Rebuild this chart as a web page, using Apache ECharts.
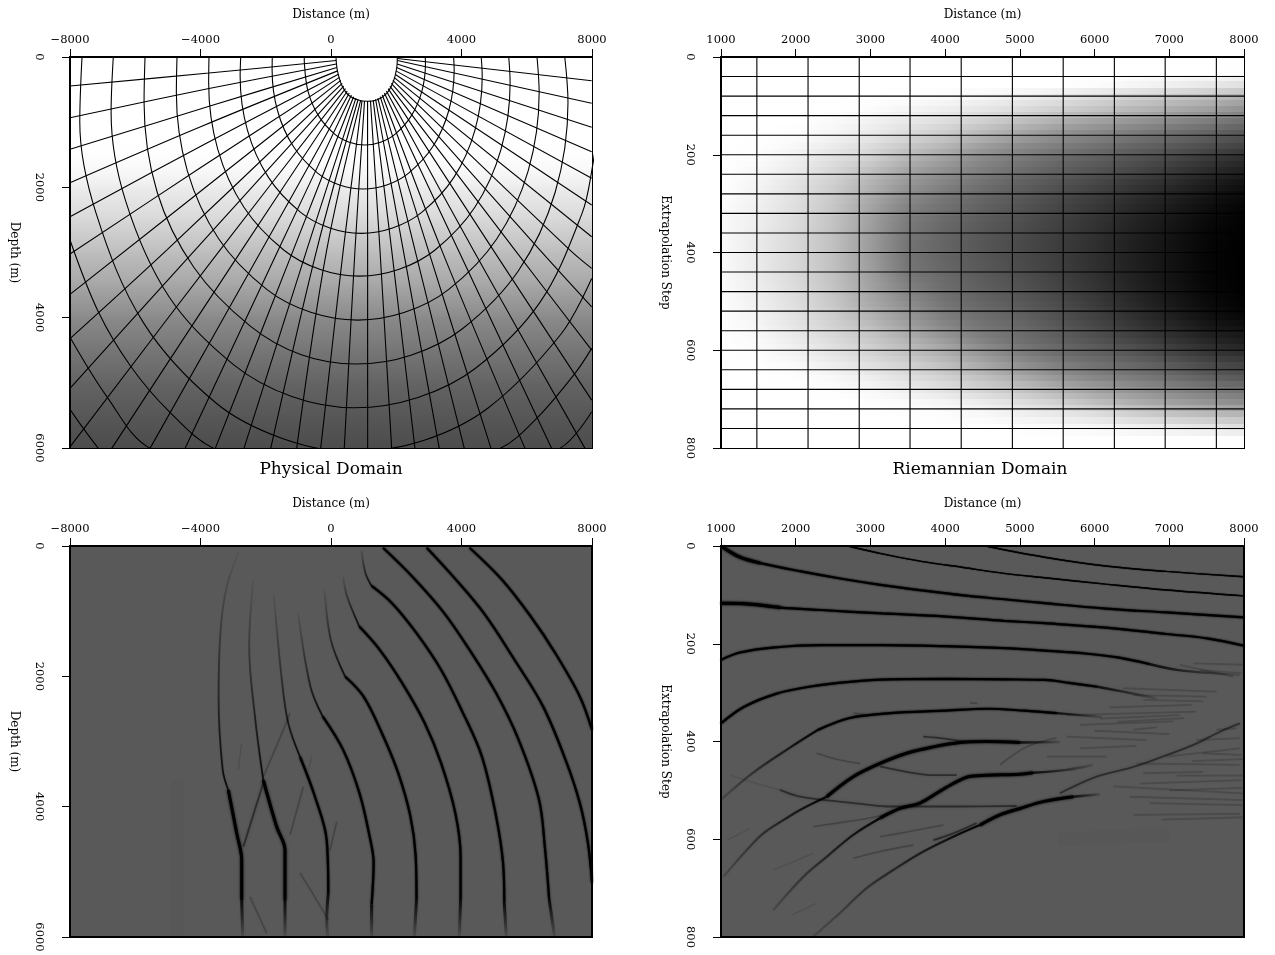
<!DOCTYPE html>
<html>
<head>
<meta charset="utf-8">
<title>Physical and Riemannian domains</title>
<script src="https://cdn.jsdelivr.net/npm/echarts@6/dist/echarts.min.js"></script>
<style>
html, body { margin: 0; padding: 0; background: #fff; }
#chart { width: 1275px; height: 955px; }
</style>
</head>
<body>
<div id="chart"></div>
<script>
// tick labels
const physicalTicks = [-8000, -4000, 0, 4000, 8000];
const depthTicks = [0, 2000, 4000, 6000];
const distanceTicks = [1000, 2000, 3000, 4000, 5000, 6000, 7000, 8000];
const stepTicks = [0, 200, 400, 600, 800];

// physical domain: gray level against depth
const velocityDepths = [0, 1000, 1500, 1800, 2000, 2500, 3000, 3500, 4000, 4500, 5000, 5500, 6000];
const velocityGrays = [255, 255, 254, 246, 236, 216, 190, 166, 138, 118, 100, 87, 76];

// physical domain: coordinate curves, hole outwards
const curve1 = [[153,0],[193,200],[328,430],[530,583],[836,660],[1112,680],[1400,660],[1707,557],[1909,379],[2013,173],[2032,0]];
const curve2 = [[-820,0],[-815,100],[-704,528],[-381,904],[112,1183],[560,1307],[1040,1350],[1520,1307],[1968,1183],[2461,904],[2784,528],[2895,100],[2889,0]];
const curve3 = [[-1800,0],[-1805,200],[-1638,825],[-1152,1374],[-410,1781],[262,1964],[985,2026],[1708,1964],[2380,1781],[3122,1374],[3608,825],[3775,200],[3758,0]];
const curve4 = [[-2768,0],[-2785,300],[-2562,1123],[-1917,1847],[-930,2384],[-36,2624],[925,2706],[1886,2624],[2780,2384],[3767,1847],[4412,1123],[4635,300],[4605,0]];
const curve5 = [[-3740,0],[-3750,400],[-3473,1413],[-2669,2305],[-1440,2965],[-327,3261],[870,3362],[2067,3261],[3180,2965],[4409,2305],[5213,1413],[5490,400],[5448,0]];
const curve6 = [[-4720,0],[-4740,550],[-4406,1743],[-3439,2792],[-1960,3570],[-620,3918],[820,4037],[2260,3918],[3600,3570],[5079,2792],[6046,1743],[6380,550],[6314,0]];
const curve7 = [[-5701,0],[-5730,700],[-5330,2072],[-4201,3230],[-2474,4130],[-909,4570],[772,4712],[2453,4576],[4018,4174],[5745,3280],[6874,2072],[7264,700],[7165,0]];
const curve8 = [[-6673,0],[-6740,850],[-6300,2200],[-4964,3680],[-2990,4720],[-1202,5210],[720,5383],[2642,5229],[4430,4776],[6404,3765],[7695,2400],[8000,1725],[8200,1000]];
const curve9 = [[-7632,0],[-7700,1000],[-7199,2400],[-5746,4080],[-3525,5310],[-1513,5850],[650,6060],[2813,5888],[4825,5382],[7046,4254],[7990,3400]];
const curve10 = [[-8000,2809],[-7133,3910],[-6130,4754],[-4935,5454],[-3556,6017],[900,6800],[5180,6006],[6304,5546],[7478,4855],[7990,4471]];
const curve11 = [[-8000,4302],[-6856,5223],[-5548,6006],[1000,7400],[7018,6006],[7990,5444]];
const curve12 = [[-8000,5408],[-7592,5699],[-7132,6006]];

// physical domain: rays, left edge round to right edge
const rayL1 = [[-8000,445],[-3740,246],[156,54]];
const rayL2 = [[-8000,932],[-3740,484],[165,107]];
const rayL3 = [[-8000,1417],[-3709,752],[180,161]];
const rayL4 = [[-8000,1929],[-4015,1074],[202,213]];
const rayL5 = [[-8000,2451],[-3862,1335],[229,264]];
const rayL6 = [[-8000,3024],[-4015,1704],[260,313]];
const rayL7 = [[-8000,3643],[-3096,1704],[300,359]];
const rayL8 = [[-8000,4321],[-5036,2963],[343,405]];
const rayL9 = [[-8000,5085],[-4169,2963],[389,447]];
const rayL10 = [[-8000,5982],[-3403,2963],[444,485]];
const rayL11 = [[-6722,6006],[-2737,2963],[499,522]];
const rayL12 = [[-5548,6006],[-2124,2963],[561,554]];
const rayL13 = [[-4475,6006],[-1616,2963],[625,583]];
const rayL14 = [[-3556,6017],[-1156,2963],[692,609]];
const rayL15 = [[-2667,6006],[-745,2963],[763,631]];
const rayL16 = [[-1848,6006],[-439,2963],[833,648]];
const rayL17 = [[-1052,6006],[-132,2963],[910,662]];
const rayL18 = [[-316,6006],[376,2963],[950,671]];
const rayL19 = [[407,6006],[735,2963],[1027,674]];
const rayMid = [[1121,675],[1124,6006]];
const rayR1 = [[1210,672],[1501,2963],[1860,6006]];
const rayR2 = [[1293,662],[1860,2963],[2574,6006]];
const rayR3 = [[1366,648],[2215,2963],[3319,6006]];
const rayR4 = [[1437,631],[2574,2963],[4085,6006]];
const rayR5 = [[1508,609],[2982,2963],[4904,6006]];
const rayR6 = [[1572,583],[3393,2963],[5946,6006]];
const rayR7 = [[1636,554],[3901,2963],[6765,6006]];
const rayR8 = [[1698,522],[4361,2963],[7785,6006]];
const rayR9 = [[1753,485],[4974,2963],[7990,5265]];
const rayR10 = [[1805,447],[5639,2963],[7990,4497]];
const rayR11 = [[1851,405],[6405,2963],[7990,3833]];
const rayR12 = [[1894,359],[7325,2963],[7990,3243]];
const rayR13 = [[1931,313],[7990,2758]];
const rayR14 = [[1964,264],[7990,2272]];
const rayR15 = [[1989,213],[7990,1862]];
const rayR16 = [[2010,161],[7990,1454]];
const rayR17 = [[2026,107],[7990,1079]];
const rayR18 = [[2035,54],[7990,711]];
const rayR19 = [[2035,23],[7990,364]];
const curves = [curve1, curve2, curve3, curve4, curve5, curve6, curve7, curve8, curve9, curve10, curve11, curve12];
const rays = [rayL1, rayL2, rayL3, rayL4, rayL5, rayL6, rayL7, rayL8, rayL9, rayL10, rayL11, rayL12, rayL13, rayL14, rayL15, rayL16, rayL17, rayL18, rayL19, rayMid,
  rayR1, rayR2, rayR3, rayR4, rayR5, rayR6, rayR7, rayR8, rayR9, rayR10, rayR11, rayR12, rayR13, rayR14, rayR15, rayR16, rayR17, rayR18, rayR19];

// riemannian domain: gray level per step and distance
const heatDistances = [1000, 1500, 2000, 2500, 3000, 3500, 4000, 4500, 5000, 5500, 6000, 6500, 7000, 7500, 8000];
const heatSteps = [0, 25, 50, 75, 100, 125, 150, 175, 200, 225, 250, 275, 300, 325, 350, 375, 400, 425, 450, 475, 500, 525, 550, 575, 600, 625, 650, 675, 700, 725, 750, 775, 800];
const heatGrays = [
  [255,255,255,255,255,255,255,255,255,255,255,255,255,255,255],
  [255,255,255,255,255,255,255,255,255,255,255,255,255,255,253],
  [255,255,255,255,255,255,255,255,255,255,252,246,240,232,225],
  [255,255,255,255,255,254,250,245,238,230,218,208,198,188,176],
  [255,255,255,255,252,245,238,230,220,208,196,184,172,160,145],
  [255,255,255,250,242,232,222,208,192,176,162,150,138,126,112],
  [255,255,253,245,235,220,205,185,166,148,136,124,112,100,88],
  [255,254,248,235,220,200,182,158,140,126,114,102,90,78,66],
  [255,252,240,225,208,182,160,138,122,108,96,84,72,58,46],
  [255,248,235,215,192,164,144,126,110,96,84,72,58,44,32],
  [255,245,228,208,180,152,132,114,98,85,72,58,46,31,19],
  [254,242,224,202,172,140,120,104,90,76,62,48,35,21,10],
  [252,240,222,198,164,130,112,97,84,70,56,41,28,14,5],
  [250,238,220,195,160,124,106,92,80,66,52,37,24,10,2],
  [250,236,218,193,158,120,102,88,76,63,49,34,21,7,1],
  [250,234,216,192,156,116,100,86,74,61,47,32,19,6,0],
  [250,234,216,192,156,116,100,86,74,62,47,32,19,5,0],
  [250,234,216,192,158,118,102,88,76,63,48,33,19,6,0],
  [251,236,218,194,160,124,106,92,80,66,50,34,20,6,0],
  [252,238,220,196,164,132,110,96,84,70,54,37,22,8,1],
  [253,240,222,200,170,142,116,102,90,76,59,42,26,11,3],
  [254,243,226,206,180,152,126,110,98,82,66,49,33,17,8],
  [255,246,230,212,192,164,138,118,106,90,74,58,42,26,18],
  [255,250,236,220,202,180,156,130,112,98,84,70,55,39,30],
  [255,253,242,228,212,194,174,150,126,110,98,87,71,55,46],
  [255,255,250,238,224,210,192,170,146,128,114,104,91,75,68],
  [255,255,253,248,238,224,210,194,172,152,135,125,112,98,90],
  [255,255,255,253,248,238,226,212,196,178,160,147,134,122,115],
  [255,255,255,255,253,250,244,235,222,208,190,174,160,148,140],
  [255,255,255,255,255,254,252,248,240,232,222,208,196,186,180],
  [255,255,255,255,255,255,255,255,253,250,246,240,235,228,222],
  [255,255,255,255,255,255,255,255,255,255,255,255,254,254,253],
  [255,255,255,255,255,255,255,255,255,255,255,255,255,255,255]
];

// riemannian domain: mesh lines
const meshDistances = [1480, 2165, 2850, 3530, 4215, 4900, 5580, 6265, 6945, 7630];
const meshSteps = [40, 80, 120, 160, 200, 240, 280, 320, 360, 400, 440, 480, 520, 560, 600, 640, 680, 720, 760];

// lower left image: wavefronts
const frontA = [[4247,26],[5248,521],[6124,1082],[6874,1644],[7625,2308],[8000,2818]];
const frontB = [[2934,26],[3747,470],[4685,1031],[5624,1746],[6499,2461],[7187,3278],[7625,3942],[7875,4555],[8000,5167]];
const frontC = [[1595,26],[2496,470],[3434,1006],[4247,1593],[5060,2257],[5749,2972],[6374,3891],[6562,4657],[6687,5422]];
const frontCTail = [[6687,5422],[6849,5984]];
const frontDTop = [[932,61],[1057,419],[1245,613]];
const frontD = [[1245,613],[1870,878],[2621,1338],[3372,1899],[3997,2512],[4623,3227],[5060,4146],[5273,4861],[5311,5474]];
const frontDTail = [[5311,5474],[5373,5984]];
const frontETop = [[369,470],[494,776],[870,1236]];
const frontE = [[870,1236],[1495,1593],[2183,2104],[2871,2716],[3372,3329],[3809,4095],[3972,4759],[3972,5423]];
const frontETail = [[3972,5423],[3935,5984]];
const frontFTop = [[-194,674],[-6,1440],[432,2002]];
const frontF = [[432,2002],[995,2308],[1558,2870],[2058,3482],[2433,4146],[2596,4759],[2621,5423]];
const frontFTail = [[2621,5423],[2558,5984]];
const frontGTop = [[-1007,1031],[-632,2155],[-256,2614]];
const frontG = [[-256,2614],[369,3125],[870,3789],[1182,4452],[1307,4861],[1245,5500]];
const frontGTail = [[1245,5500],[1245,5984]];
const frontHTop = [[-1758,725],[-1507,2053],[-1309,2722],[-950,3234]];
const frontH = [[-950,3234],[-491,3848],[-132,4513],[-83,5326]];
const frontHTail = [[-83,5326],[-132,5741],[-100,5984]];
const frontITop = [[-2383,521],[-2508,1542],[-2320,2665],[-2075,3592]];
const frontI = [[-2075,3592],[-1665,4309],[-1410,4666],[-1410,5434]];
const frontITail = [[-1410,5434],[-1410,5984]];
const frontJTop = [[-2821,87],[-3196,623],[-3384,1287],[-3446,2308],[-3321,3431],[-3148,3745]];
const frontJ = [[-3148,3745],[-2891,4405],[-2737,4820],[-2737,5434]];
const frontJTail = [[-2737,5434],[-2707,5984]];
const crossA = [[-2075,3638],[-2688,4616]];
const crossB = [[-2075,3541],[-1462,2824],[-1257,2563]];
const crossC = [[-849,3695],[-1257,4436]];
const crossD = [[-592,3234],[-696,3438]];
const crossE = [[174,4232],[-31,4666]];
const crossF = [[-2737,3024],[-2841,3438]];
const crossG = [[-950,5020],[-439,5434],[-83,5741]];
const crossH = [[-2483,5383],[-1971,5940]];
const hazeStripe = [[-4690,3600],[-4690,6000]];

// lower right image: reflector events
const eventA = [[4571,1],[5332,23],[6147,41],[6962,52],[8000,63]];
const eventB = [[2723,1],[3158,16],[3701,32],[4245,44],[4788,56],[5332,65],[6147,78],[6962,90],[8000,102]];
const eventC = [[1011,1],[1255,23],[1527,35],[2071,52],[2614,67],[3158,80],[3701,91],[4245,101],[4788,109],[5332,117],[6147,128],[6962,136],[8000,146]];
const eventCStart = [[1011,1],[1255,23],[1527,35]];
const eventD = [[1000,117],[1310,118],[1799,126],[2342,131],[3158,138],[3973,144],[4788,153],[5332,158],[6147,167],[6962,180],[7506,189],[8000,204]];
const eventDStart = [[1000,117],[1310,118],[1799,126]];
const eventE = [[1000,233],[1255,218],[1690,208],[2342,203],[3158,203],[3973,205],[4788,209],[5332,214],[5875,220],[6310,228],[6745,242]];
const eventETail = [[6745,242],[7125,254],[7941,264]];
const eventF = [[1000,363],[1310,329],[1745,302],[2179,288],[2723,278],[3266,273],[4027,272],[4788,273],[5332,274],[5658,280],[6038,288]];
const eventFTail = [[6038,288],[6383,298],[6829,312]];
const eventG = [[2288,377],[2723,352],[3266,342],[3973,337],[4571,333],[5060,337],[5495,342]];
const eventGTop = [[1000,519],[1418,465],[1908,414],[2288,377]];
const eventGTail = [[5495,342],[6100,350]];
const eventH = [[2414,513],[2770,472],[3127,445],[3485,424],[3841,411],[4198,402],[4555,400],[5001,402]];
const eventHTop = [[1031,677],[1344,622],[1566,588],[1834,561],[2057,540],[2414,513]];
const eventHTail = [[5001,402],[5536,401]];
const eventI = [[3127,557],[3395,537],[3663,526],[3886,506],[4108,486],[4309,472],[4555,469],[5001,467],[5175,464]];
const eventITop = [[1700,745],[2101,677],[2414,636],[2770,591],[3127,557]];
const eventITail = [[5175,464],[5625,458],[5977,448]];
const eventJ = [[4465,571],[4733,550],[5001,537],[5312,523],[5714,513]];
const eventJTop = [[2235,799],[2592,751],[2949,700],[3305,663],[3663,629],[4108,595],[4465,571]];
const eventJTail = [[5714,513],[6071,508]];
const fanArc = [[5536,506],[6027,472],[6518,452],[6964,428],[7321,407],[7678,380],[7945,363]];
const branchA = [[1789,499],[2057,513],[2458,521],[2904,528],[3261,533],[3663,533],[4198,533],[4957,532]];
const branchB = [[3127,451],[3485,462],[3841,469],[4154,469]];
const branchC = [[3707,390],[3930,393],[4242,400]];
const branchD = [[2281,424],[2592,438],[2860,445]];
const branchE = [[2235,574],[2682,564],[3083,554],[3305,544]];
const branchF = [[3127,595],[3485,585],[3977,571]];
const branchG = [[2770,639],[3127,625],[3573,612]];
const branchH = [[3841,602],[4108,588],[4421,567]];
const branchI = [[4733,448],[5090,411],[5491,393]];
const branchJ = [[1120,469],[1478,486],[1789,499]];
const branchK = [[1946,755],[2281,731]];
const branchL = [[1700,663],[2235,629]];
const branchM = [[1076,602],[1388,578]];
const blobA = [[2770,342],[2905,344]];
const blobB = [[4332,321],[4432,322]];
const lowSmear = [[5500,600],[7000,590]];
const fanStreaks = [
  [[7141,243],[7855,267]], [[7320,240],[7989,243]], [[7409,254],[7966,260]],
  [[6383,291],[7632,298]], [[6517,305],[7498,308]], [[6651,315],[7454,318]],
  [[6200,330],[7300,325]], [[5625,346],[7364,339]], [[6071,353],[7141,346]], [[6300,360],[7200,352]], [[5803,366],[7052,359]],
  [[6517,376],[6829,371]], [[6000,378],[7000,385]], [[5625,390],[6695,397]], [[5803,414],[6562,409]],
  [[5357,431],[6160,431]], [[6651,465],[7454,462]], [[6606,486],[7966,479]],
  [[6562,445],[7944,448]], [[6963,431],[7944,414]], [[6249,492],[7989,506]],
  [[6472,513],[7989,520]], [[6740,526],[7989,530]], [[6517,550],[7944,548]],
  [[7632,376],[7899,373]], [[7364,397],[7944,393]], [[7454,424],[7966,428]],
  [[6900,560],[7990,555]], [[7000,500],[7980,495]], [[7100,470],[7990,470]], [[7300,440],[7990,436]]
];

const strokeStyles = {
  heavy: { width: 3, alpha: 1, blur: 2.5 },
  strong: { width: 2.2, alpha: 1, blur: 2 },
  thin: { width: 1.4, alpha: 1, blur: 1 },
  mid: { width: 1.8, alpha: 0.45, blur: 3 },
  soft: { width: 1.6, alpha: 0.22, blur: 3 },
  faint: { width: 1.2, alpha: 0.12, blur: 2 },
  streak: { width: 1.8, alpha: 0.15, blur: 2 },
  haze: { width: 14, alpha: 0.01, blur: 0 },
  riseV: { width: 1.8, from: 0.04, to: 0.85, dir: 'v', blur: 2 },
  fallV: { width: 3, from: 0.9, to: 0.08, dir: 'v', blur: 3 },
  riseH: { width: 2.2, from: 0.15, to: 0.95, dir: 'h', blur: 2.5 },
  fallH: { width: 2.4, from: 0.85, to: 0.1, dir: 'h', blur: 3 }
};

const frontStrokes = [
  [hazeStripe, 'haze'], [frontA, 'strong'], [frontB, 'strong'], [frontC, 'strong'], [frontCTail, 'fallV'],
  [frontDTop, 'riseV'], [frontD, 'strong'], [frontDTail, 'fallV'], [frontETop, 'riseV'], [frontE, 'strong'], [frontETail, 'fallV'],
  [frontFTop, 'riseV'], [frontF, 'strong'], [frontFTail, 'fallV'], [frontGTop, 'riseV'], [frontG, 'strong'], [frontGTail, 'fallV'],
  [frontHTop, 'riseV'], [frontH, 'strong'], [frontHTail, 'fallV'], [frontITop, 'riseV'], [frontI, 'heavy'], [frontITail, 'fallV'],
  [frontJTop, 'riseV'], [frontJ, 'heavy'], [frontJTail, 'fallV'], [crossA, 'mid'], [crossB, 'soft'], [crossC, 'soft'],
  [crossD, 'faint'], [crossE, 'soft'], [crossF, 'faint'], [crossG, 'soft'], [crossH, 'soft']
];
const eventStrokes = [
  [lowSmear, 'haze'], [eventA, 'thin'], [eventB, 'thin'], [eventC, 'strong'], [eventCStart, 'heavy'], [eventD, 'strong'], [eventDStart, 'heavy'],
  [eventE, 'strong'], [eventETail, 'fallH'], [eventF, 'strong'], [eventFTail, 'fallH'], [eventG, 'strong'], [eventGTop, 'riseH'], [eventGTail, 'fallH'],
  [eventH, 'heavy'], [eventHTop, 'riseH'], [eventHTail, 'fallH'], [eventI, 'heavy'], [eventITop, 'riseH'], [eventITail, 'fallH'],
  [eventJ, 'heavy'], [eventJTop, 'riseH'], [eventJTail, 'fallH'], [fanArc, 'mid'],
  [branchA, 'mid'], [branchB, 'mid'], [branchC, 'mid'], [branchD, 'soft'], [branchE, 'soft'], [branchF, 'soft'], [branchG, 'soft'],
  [branchH, 'mid'], [branchI, 'soft'], [branchJ, 'faint'], [branchK, 'faint'], [branchL, 'faint'], [branchM, 'faint'], [blobA, 'soft'], [blobB, 'soft']
].concat(fanStreaks.map(s => [s, 'streak']));

const FONT = 'DejaVu Serif';

function gray(v) {
  return 'rgb(' + v + ',' + v + ',' + v + ')';
}

function topAxis(gridIndex, min, max, interval) {
  return {
    type: 'value', gridIndex: gridIndex, position: 'top', min: min, max: max, interval: interval, z: 10,
    name: 'Distance (m)', nameLocation: 'middle', nameGap: 36,
    nameTextStyle: { fontFamily: FONT, fontSize: 12, color: '#000' },
    axisLine: { show: true, onZero: false, lineStyle: { color: '#000', width: 2 } },
    axisTick: { show: true, length: 8, lineStyle: { color: '#000', width: 1 } },
    axisLabel: { margin: 11, fontFamily: FONT, fontSize: 11.5, color: '#000', formatter: v => String(v).replace('-', '\u2212') },
    splitLine: { show: false }
  };
}

function leftAxis(gridIndex, max, interval, name) {
  return {
    type: 'value', gridIndex: gridIndex, position: 'left', inverse: true, min: 0, max: max, interval: interval, z: 10,
    name: name, nameLocation: 'middle', nameGap: 50, nameRotate: -90,
    nameTextStyle: { fontFamily: FONT, fontSize: 12, color: '#000' },
    axisLine: { show: true, onZero: false, lineStyle: { color: '#000', width: 2 } },
    axisTick: { show: true, length: 8, lineStyle: { color: '#000', width: 1 } },
    axisLabel: { margin: 25, rotate: -90, fontFamily: FONT, fontSize: 11.5, color: '#000', formatter: v => String(v) },
    splitLine: { show: false }
  };
}

function meshLine(gridIndex, data, smooth) {
  return {
    type: 'line', xAxisIndex: gridIndex, yAxisIndex: gridIndex, data: data, silent: true,
    symbol: 'none', smooth: smooth, clip: true, animation: false,
    lineStyle: { color: '#000', width: 1.1 }
  };
}

function strokeLine(gridIndex, stroke) {
  const st = strokeStyles[stroke[1]];
  let col = 'rgba(0,0,0,' + st.alpha + ')';
  let glow = col;
  if (st.dir) {
    col = new echarts.graphic.LinearGradient(0, 0, st.dir === 'h' ? 1 : 0, st.dir === 'v' ? 1 : 0, [
      { offset: 0, color: 'rgba(0,0,0,' + st.from + ')' },
      { offset: 1, color: 'rgba(0,0,0,' + st.to + ')' }
    ]);
    glow = 'rgba(0,0,0,0.25)';
  }
  return {
    type: 'line', xAxisIndex: gridIndex, yAxisIndex: gridIndex, data: stroke[0], silent: true,
    symbol: 'none', smooth: 0.35, clip: true, animation: false,
    lineStyle: { color: col, width: st.width, shadowBlur: st.blur, shadowColor: glow }
  };
}

// vertical gradient bands for the velocity image
const velocitySeries = {
  type: 'custom', xAxisIndex: 0, yAxisIndex: 0, clip: true, silent: true, animation: false,
  data: velocityDepths.slice(1).map((d, i) => [-8000, velocityDepths[i], 8000, d, velocityGrays[i], velocityGrays[i + 1]]),
  renderItem: function (params, api) {
    const a = api.coord([api.value(0), api.value(1)]);
    const b = api.coord([api.value(2), api.value(3)]);
    return {
      type: 'rect',
      shape: { x: a[0], y: Math.floor(a[1]), width: b[0] - a[0], height: Math.ceil(b[1] - a[1]) + 1 },
      style: { fill: new echarts.graphic.LinearGradient(0, 0, 0, 1, [
        { offset: 0, color: gray(api.value(4)) }, { offset: 1, color: gray(api.value(5)) }
      ]) }
    };
  }
};

// horizontal gradient strips for the riemannian image, second pass half a row down at half opacity
function heatSeries(shift, opacity) {
  return {
    type: 'custom', xAxisIndex: 1, yAxisIndex: 1, clip: true, silent: true, animation: false,
    data: heatSteps.map((s, i) => [s, i]),
    renderItem: function (params, api) {
      const i = api.value(1);
      const s = api.value(0) + shift;
      const a = api.coord([1000, Math.max(0, s - 12.5)]);
      const b = api.coord([8000, Math.min(800, s + 12.5)]);
      const stops = heatDistances.map((d, k) => ({ offset: (d - 1000) / 7000, color: gray(heatGrays[i][k]) }));
      return {
        type: 'rect',
        shape: { x: a[0], y: Math.round(a[1]), width: b[0] - a[0], height: Math.round(b[1]) - Math.round(a[1]) },
        style: { fill: new echarts.graphic.LinearGradient(0, 0, 1, 0, stops), opacity: opacity }
      };
    }
  };
}

const series = [velocitySeries, heatSeries(0, 1), heatSeries(12.5, 0.5)];
curves.forEach(c => series.push(meshLine(0, c, 0.35)));
rays.forEach(r => series.push(meshLine(0, r, 0.35)));
meshDistances.forEach(d => series.push(meshLine(1, [[d, 0], [d, 800]], false)));
meshSteps.forEach(s => series.push(meshLine(1, [[1000, s], [8000, s]], false)));
frontStrokes.forEach(s => series.push(strokeLine(2, s)));
eventStrokes.forEach(s => series.push(strokeLine(3, s)));

const chart = echarts.init(document.getElementById('chart'), null, { renderer: 'canvas' });
chart.setOption({
  animation: false,
  backgroundColor: '#fff',
  title: [
    { text: 'Physical Domain', left: 331, top: 461, padding: 0, textAlign: 'center', textStyle: { fontFamily: FONT, fontSize: 17, fontWeight: 'normal', color: '#000' } },
    { text: 'Riemannian Domain', left: 980, top: 461, padding: 0, textAlign: 'center', textStyle: { fontFamily: FONT, fontSize: 17, fontWeight: 'normal', color: '#000' } }
  ],
  grid: [
    { left: 70, top: 57, width: 522, height: 391, show: true, backgroundColor: '#fff', borderColor: '#000', borderWidth: 2 },
    { left: 721, top: 57, width: 523, height: 391, show: true, backgroundColor: '#fff', borderColor: '#000', borderWidth: 2 },
    { left: 70, top: 546, width: 522, height: 391, show: true, backgroundColor: '#595959', borderColor: '#000', borderWidth: 2 },
    { left: 721, top: 546, width: 523, height: 391, show: true, backgroundColor: '#595959', borderColor: '#000', borderWidth: 2 }
  ],
  xAxis: [
    topAxis(0, physicalTicks[0], physicalTicks[4], 4000),
    topAxis(1, distanceTicks[0], distanceTicks[7], 1000),
    topAxis(2, physicalTicks[0], physicalTicks[4], 4000),
    topAxis(3, distanceTicks[0], distanceTicks[7], 1000)
  ],
  yAxis: [
    leftAxis(0, depthTicks[3], 2000, 'Depth (m)'),
    leftAxis(1, stepTicks[4], 200, 'Extrapolation Step'),
    leftAxis(2, depthTicks[3], 2000, 'Depth (m)'),
    leftAxis(3, stepTicks[4], 200, 'Extrapolation Step')
  ],
  series: series
});
</script>
</body>
</html>
